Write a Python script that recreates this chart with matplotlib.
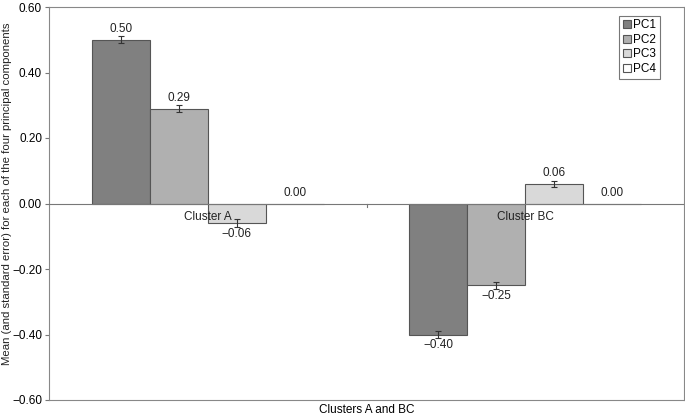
import numpy as np
import matplotlib
matplotlib.use("Agg")
import matplotlib.pyplot as plt

plt.rcParams['font.family'] = ['Liberation Sans', 'DejaVu Sans']

clusters = ["Cluster A", "Cluster BC"]
components = ["PC1", "PC2", "PC3", "PC4"]
means = {
    "PC1": [0.50, -0.40],
    "PC2": [0.29, -0.25],
    "PC3": [-0.06, 0.06],
    "PC4": [0.00, 0.00],
}
errors = {
    "PC1": [0.010, 0.010],
    "PC2": [0.010, 0.010],
    "PC3": [0.012, 0.010],
    "PC4": [0.0, 0.0],
}
colors = ["#808080", "#b0b0b0", "#d9d9d9", "#ffffff"]

fig = plt.figure(figsize=(6.85, 4.18), dpi=100)
ax = fig.add_axes([49 / 685, 1 - 400 / 418, 635 / 685, 393 / 418])

x = np.arange(len(clusters))
w = 0.183
for i, pc in enumerate(components):
    pos = x + (i - 1.5) * w
    vals = means[pc]
    ax.bar(pos, vals, w, color=colors[i], edgecolor="#555555", linewidth=0.8,
           label=pc, zorder=2)
    if pc != "PC4":
        ax.errorbar(pos, vals, yerr=errors[pc], fmt="none", ecolor="#333333",
                    elinewidth=0.8, capsize=2.5, capthick=0.8, zorder=3)
    for p, v in zip(pos, vals):
        if v > 0 or pc == "PC4":
            ax.text(p, v + 0.015, f"{v:.2f}", ha="center", va="bottom", fontsize=8.5,
                    color="#222222")
        else:
            ax.text(p, v - 0.015, f"\u2212{abs(v):.2f}", ha="center", va="top",
                    fontsize=8.5, color="#222222")

ax.set_xlim(-0.5, 1.5)
ax.set_ylim(-0.6, 0.6)
ticks = np.arange(-0.6, 0.61, 0.2)
ax.set_yticks(ticks)
ax.set_yticklabels([f"{t:.2f}".replace("-", "\u2212") for t in ticks], fontsize=8.5)
ax.tick_params(axis="y", length=3, color="#777777", pad=2)

# x axis drawn at zero with category labels just below it
ax.axhline(0, color="#777777", linewidth=0.8, zorder=4)
ax.set_xticks([])
for xi, c in zip(x, clusters):
    ax.text(xi, -0.022, c, ha="center", va="top", fontsize=8.5, color="#222222", zorder=5)
ax.plot([0.5, 0.5], [0, -0.012], color="#777777", linewidth=0.8, zorder=4)
ax.set_xlabel("Clusters A and BC", fontsize=8.5, labelpad=3)
fig.text(7 / 685, 1 - 194 / 418,
         "Mean (and standard error) for each of the four principal components",
         rotation=90, ha="center", va="center", fontsize=8.2, color="#222222")

for s in ax.spines.values():
    s.set_color("#888888")
    s.set_linewidth(0.8)

leg = ax.legend(loc="upper right", bbox_to_anchor=(0.962, 0.978), fontsize=8.5,
                frameon=True, fancybox=False, handlelength=0.7, handleheight=0.7,
                handletextpad=0.2, borderpad=0.3, labelspacing=0.22, borderaxespad=0)
leg.get_frame().set_edgecolor("#555555")
leg.get_frame().set_linewidth(0.8)

fig.savefig("out.png", dpi=100)
